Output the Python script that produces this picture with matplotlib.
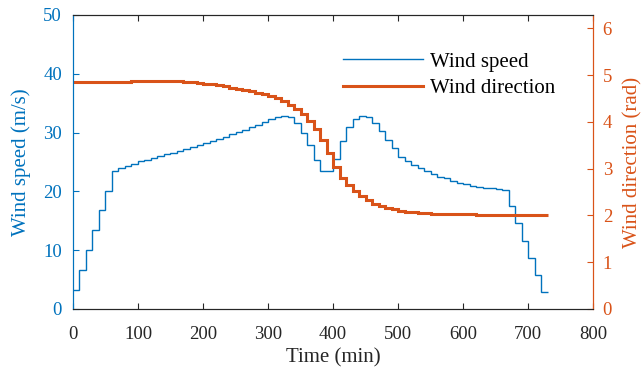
import matplotlib.pyplot as plt
import numpy as np

# 10-minute stair samples, each value holds from t to t+10
time_edges = np.arange(0, 740, 10)

wind_speed = [
    3.3, 6.7, 10.0, 13.4, 16.8, 20.1, 23.5, 23.9, 24.3, 24.7,
    25.1, 25.4, 25.7, 26.0, 26.3, 26.6, 26.9, 27.2, 27.5, 27.9,
    28.2, 28.5, 28.9, 29.3, 29.7, 30.1, 30.5, 30.9, 31.3, 31.8,
    32.3, 32.6, 32.8, 32.6, 31.7, 30.0, 27.9, 25.4, 23.4, 23.4,
    25.5, 28.6, 31.0, 32.3, 32.8, 32.6, 31.6, 30.2, 28.7, 27.3,
    25.9, 25.2, 24.5, 23.9, 23.4, 23.0, 22.5, 22.2, 21.8, 21.5,
    21.3, 21.0, 20.8, 20.6, 20.5, 20.4, 20.2, 17.5, 14.6, 11.6,
    8.7, 5.8, 2.9,
]

wind_direction = [
    4.85, 4.85, 4.85, 4.85, 4.85, 4.85, 4.85, 4.86, 4.86, 4.87,
    4.87, 4.87, 4.88, 4.88, 4.88, 4.87, 4.87, 4.86, 4.85, 4.83,
    4.81, 4.80, 4.78, 4.76, 4.73, 4.71, 4.68, 4.65, 4.62, 4.59,
    4.55, 4.50, 4.44, 4.36, 4.27, 4.16, 4.02, 3.84, 3.61, 3.33,
    3.04, 2.81, 2.64, 2.52, 2.41, 2.32, 2.25, 2.20, 2.16, 2.13,
    2.10, 2.08, 2.07, 2.06, 2.05, 2.04, 2.04, 2.03, 2.03, 2.02,
    2.02, 2.02, 2.01, 2.01, 2.01, 2.01, 2.01, 2.01, 2.01, 2.01,
    2.01, 2.01, 2.00,
]

x_ticks = [0, 100, 200, 300, 400, 500, 600, 700, 800]
speed_ticks = [0, 10, 20, 30, 40, 50]
dir_ticks = [0, 1, 2, 3, 4, 5, 6]

blue = '#0072BD'
orange = '#D95319'
dark = '#262626'

plt.rcParams['font.family'] = ['Liberation Serif', 'DejaVu Serif']

fig = plt.figure(figsize=(6.42, 3.73), dpi=100)
ax = fig.add_axes([0.1137, 0.1716, 0.81, 0.7882])
ax2 = ax.twinx()

h1 = ax.stairs(wind_speed, time_edges, baseline=None, color=blue,
               linewidth=1.0, label='Wind speed')
h2 = ax2.stairs(wind_direction, time_edges, baseline=None, color=orange,
                linewidth=2.2, label='Wind direction')

ax.set_xlim(0, 800)
ax.set_ylim(0, 50)
ax2.set_ylim(0, 2 * np.pi)
ax.set_xticks(x_ticks)
ax.set_yticks(speed_ticks)
ax2.set_yticks(dir_ticks)

ax.set_xlabel('Time (min)', fontsize=15, color=dark, labelpad=4)
ax.set_ylabel('Wind speed (m/s)', fontsize=15, color=blue, labelpad=9)
ax2.set_ylabel('Wind direction (rad)', fontsize=15, color=orange, labelpad=8)

ax.tick_params(axis='x', direction='in', length=4, width=0.8, top=True,
               labelsize=13.5, colors=dark, pad=12)
ax.tick_params(axis='y', direction='in', length=4, width=0.8,
               labelsize=13.5, colors=blue, pad=8)
ax2.tick_params(axis='y', direction='in', length=4, width=0.8,
                labelsize=13.5, colors=orange, pad=7)

for a in (ax, ax2):
    a.spines['top'].set_color(dark)
    a.spines['bottom'].set_color(dark)
    a.spines['left'].set_color(blue)
    a.spines['right'].set_color(orange)
    for s in a.spines.values():
        s.set_linewidth(0.8)

leg = ax2.legend([h1, h2], ['Wind speed', 'Wind direction'],
                 loc='upper left', bbox_to_anchor=(0.519, 0.874),
                 frameon=False, fontsize=15, handlelength=3.85,
                 handletextpad=0.35, labelspacing=0.33, borderpad=0,
                 borderaxespad=0)

fig.savefig('out.png', dpi=100)
